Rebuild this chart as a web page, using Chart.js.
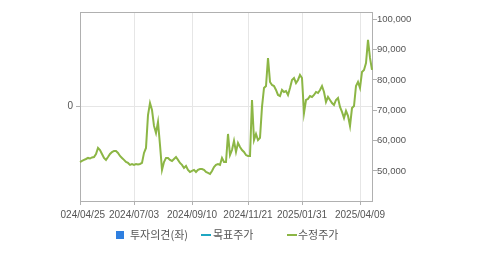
<!DOCTYPE html>
<html>
<head>
<meta charset="utf-8">
<script src="https://cdn.jsdelivr.net/npm/chart.js@4.4.1/dist/chart.umd.min.js"></script>
<style>
  html, body { margin: 0; padding: 0; background: #fff; }
  .wrap { position: relative; width: 479px; height: 255px; }
  .chart-box { position: absolute; left: 0; top: 0; width: 479px; height: 255px;
    clip-path: polygon(0 0, 100% 0, 100% 100%, 60px 100%, 60px 205px, 0 205px); }
  .legend span { position: absolute; }
  .legend .lbl { top: 226px; font: 11px "Noto Sans CJK KR", sans-serif; line-height: 16px; color: #555; white-space: nowrap; }
  .legend .sq { left: 116px; top: 231px; width: 8px; height: 8px; background: #2f7fe0; }
  .legend .ln { top: 234px; width: 10px; height: 2px; }
</style>
</head>
<body>
<div class="wrap">
  <div class="chart-box"><canvas id="priceChart"></canvas></div>
  <div class="legend">
    <span class="sq"></span><span class="lbl" style="left:130px">투자의견(좌)</span>
    <span class="ln" style="left:201px; background:#1fa7c2"></span><span class="lbl" style="left:213px">목표주가</span>
    <span class="ln" style="left:287px; background:#8cb645"></span><span class="lbl" style="left:298px">수정주가</span>
  </div>
</div>
<script>
// 수정주가 (adjusted price), sampled about every 2 trading days
const prices = [
  52950, 53300, 53650, 53950, 54300, 54100, 54450, 54600, 55600, 57600,
  56900, 55600, 54300, 53650, 54600, 55600, 56250, 56600, 56600, 55950,
  54950, 54300, 53650, 52950, 52650, 52000, 52300, 52000, 52300, 52150,
  52300, 52650, 55950, 57600, 68450, 72400, 70100, 64850, 62500, 66150,
  58550, 50350, 52950, 54300, 54300, 53650, 53300, 53950, 54600, 53650,
  52650, 52000, 51000, 51650, 50350, 49650, 50000, 50350, 49650, 50350,
  50650, 50650, 50350, 49650, 49350, 49000, 50000, 51300, 52000, 52300,
  52000, 54300, 52950, 52950, 62200, 55250, 56900, 59900, 56250, 59250,
  57900, 56900, 56250, 55250, 54950, 54950, 73400, 60200, 62200, 60200,
  60900, 71100, 77350, 78000, 87250, 79350, 78350, 78000, 76700, 75050,
  74700, 76700, 76050, 76350, 75050, 77350, 80000, 80650, 79000, 80000,
  81650, 80650, 69100, 73400, 73750, 74700, 74400, 75050, 76050, 75700,
  76700, 78000, 76050, 72750, 74400, 73400, 72400, 71750, 73400, 74050,
  71100, 69450, 67450, 69800, 68150, 64850, 70750, 71400, 78000, 79350,
  77350, 82650, 83300, 85600, 93200, 87250, 83300
];
const tickDates = ['2024/04/25', '2024/07/03', '2024/09/10', '2024/11/21', '2025/01/31', '2025/04/09'];
const tickIndex = [0, 27, 56, 84, 111, 140];
const priceTicks = [50000, 60000, 70000, 80000, 90000, 100000];
const opinionTicks = [0];

const lineColor = '#8cb645';
const borderGray = '#b0b0b0';
const gridGray = '#e6e6e6';
const textGray = '#555';

const topBorder = {
  id: 'topBorder',
  afterDraw(chart) {
    const { ctx, chartArea } = chart;
    ctx.save();
    ctx.strokeStyle = borderGray;
    ctx.lineWidth = 1;
    ctx.beginPath();
    ctx.moveTo(chartArea.left, chartArea.top + 0.5);
    ctx.lineTo(chartArea.right, chartArea.top + 0.5);
    ctx.stroke();
    ctx.restore();
  }
};

new Chart(document.getElementById('priceChart'), {
  type: 'line',
  data: {
    labels: prices.map((_, i) => i),
    datasets: [{
      label: '수정주가',
      data: prices,
      yAxisID: 'y2',
      borderColor: lineColor,
      borderWidth: 2,
      pointRadius: 0,
      tension: 0,
      fill: false
    }]
  },
  options: {
    responsive: true,
    maintainAspectRatio: false,
    animation: false,
    layout: { padding: { top: 12, left: 0, right: 0, bottom: 0 } },
    plugins: { legend: { display: false }, tooltip: { enabled: false } },
    scales: {
      x: {
        type: 'category',
        offset: false,
        afterBuildTicks: s => { s.ticks = tickIndex.map(i => ({ value: i })); },
        afterFit: s => { s.height = 54; },
        border: { color: borderGray },
        grid: { color: gridGray, tickColor: borderGray, tickLength: 4 },
        ticks: {
          autoSkip: false, maxRotation: 0, minRotation: 0, padding: 4,
          color: textGray, font: { family: 'Liberation Sans', size: 10 },
          callback: (v, i) => tickDates[i]
        }
      },
      y: {
        position: 'left',
        min: -1,
        max: 1,
        afterBuildTicks: s => { s.ticks = opinionTicks.map(v => ({ value: v })); },
        afterFit: s => { s.width = 80; },
        border: { color: borderGray },
        grid: { color: gridGray, tickColor: borderGray, tickLength: 4 },
        ticks: { padding: 3, color: textGray, font: { family: 'Liberation Sans', size: 10 } }
      },
      y2: {
        position: 'right',
        min: 40100,
        max: 102400,
        afterBuildTicks: s => { s.ticks = priceTicks.map(v => ({ value: v })); },
        afterFit: s => { s.width = 107; },
        border: { color: borderGray },
        grid: { drawOnChartArea: false, tickColor: borderGray, tickLength: 5 },
        ticks: {
          padding: 0, color: textGray, font: { family: 'Liberation Sans', size: 9.5 },
          callback: v => v.toLocaleString('en-US')
        }
      }
    }
  },
  plugins: [topBorder]
});
</script>
</body>
</html>
